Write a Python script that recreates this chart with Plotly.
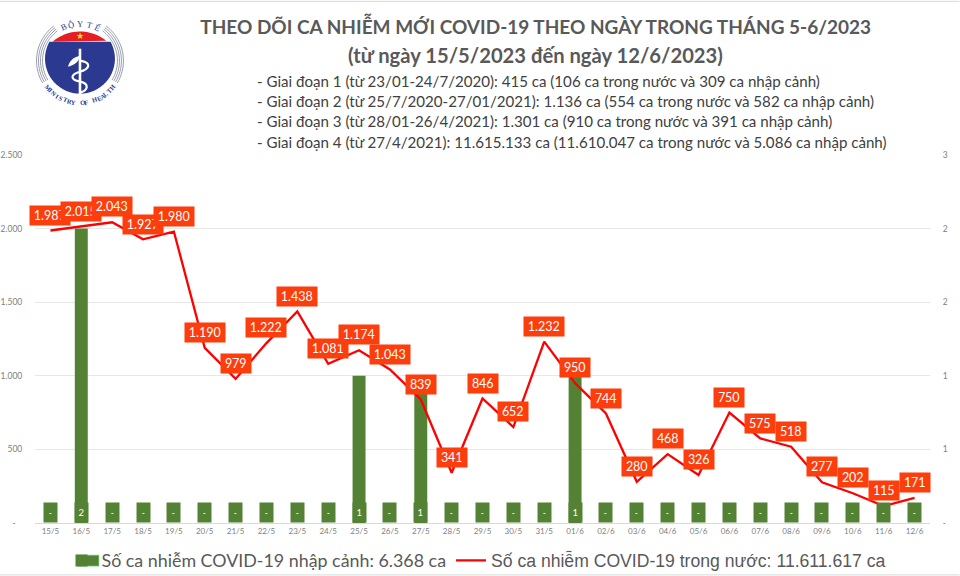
import math
import plotly.graph_objects as go

days = ["15/5", "16/5", "17/5", "18/5", "19/5", "20/5", "21/5", "22/5", "23/5", "24/5",
        "25/5", "26/5", "27/5", "28/5", "29/5", "30/5", "31/5", "01/6", "02/6", "03/6",
        "04/6", "05/6", "06/6", "07/6", "08/6", "09/6", "10/6", "11/6", "12/6"]
nhap_canh = [0, 2, 0, 0, 0, 0, 0, 0, 0, 0, 1, 0, 1, 0, 0, 0, 0, 1, 0, 0, 0, 0, 0, 0, 0, 0, 0, 0, 0]
trong_nuoc = [1987, 2015, 2043, 1927, 1980, 1190, 979, 1222, 1438, 1081, 1174, 1043, 839, 341, 846,
              652, 1232, 950, 744, 280, 468, 326, 750, 575, 518, 277, 202, 115, 171]

left_ticks = [0, 500, 1000, 1500, 2000, 2500]
left_labels = ["-\u00a0\u00a0\u00a0", "500", "1.000", "1.500", "2.000", "2.500"]
right_ticks = [0, 0.5, 1, 1.5, 2, 2.5]
right_labels = ["-", "1", "1", "2", "2", "3"]

title_lines = ["THEO DÕI CA NHIỄM MỚI COVID-19 THEO NGÀY TRONG THÁNG 5-6/2023",
               "(từ ngày 15/5/2023 đến ngày 12/6/2023)"]
giai_doan = ["- Giai đoạn 1 (từ 23/01-24/7/2020): 415 ca (106 ca trong nước và 309 ca nhập cảnh)",
             "- Giai đoạn 2 (từ 25/7/2020-27/01/2021): 1.136 ca (554 ca trong nước và 582 ca nhập cảnh)",
             "- Giai đoạn 3 (từ 28/01-26/4/2021): 1.301 ca (910 ca trong nước và 391 ca nhập cảnh)",
             "- Giai đoạn 4 (từ 27/4/2021): 11.615.133 ca (11.610.047 ca trong nước và 5.086 ca nhập cảnh)"]

W, H = 960, 576
L, R, T, B = 35, 930.5, 154.5, 523.3
GREEN = "#548235"
RED = "#FF0000"
LABEL_RED = "#FC3D0C"
BODY = "Lato"
NAVY = "#2B3990"


def px(x):
    return (x - L) / (R - L)


def py(y):
    return (B - y) / (B - T)


fig = go.Figure()
fig.add_trace(go.Bar(
    x=days, y=nhap_canh, yaxis="y", width=0.42,
    name='<span style="font-family:Lato;font-size:17.85px">Số ca nhiễm COVID-19 nhập cảnh: 6.368 ca</span>',
    marker=dict(color=GREEN, line=dict(width=0)),
))
fig.add_trace(go.Scatter(
    x=days, y=trong_nuoc, yaxis="y2", mode="lines",
    name="Số ca nhiễm COVID-19 trong nước: 11.611.617 ca",
    line=dict(color=RED, width=2.3),
))

# green boxes at the foot of the bars
for d, v in zip(days, nhap_canh):
    fig.add_annotation(x=d, y=0, xref="x", yref="y", yanchor="bottom", yshift=0.5,
                       text=str(v) if v else "-", showarrow=False,
                       width=12.5, height=19, borderpad=0, bgcolor=GREEN,
                       font=dict(family=BODY, size=8.5 if not v else 9.5, color="white"))

# red value labels, later ones sit on top of earlier ones
for d, v in zip(days, trong_nuoc):
    label = f"{v:,}".replace(",", ".")
    fig.add_annotation(x=d, y=v, xref="x", yref="y2", yanchor="middle", yshift=15.3,
                       text=label, showarrow=False,
                       width=39.5 if v >= 1000 else 29.5, height=19, borderpad=0, bgcolor=LABEL_RED,
                       font=dict(family=BODY, size=12.5, color="white"))

# second title line and the stage lines under it
fig.add_annotation(x=px(536), y=py(54), xref="paper", yref="paper", xanchor="center", yanchor="middle",
                   text=f"<b>{title_lines[1]}</b>", showarrow=False,
                   font=dict(family=BODY, size=20.2, color="#595959"))
for i, line in enumerate(giai_doan):
    fig.add_annotation(x=px(255), y=py(80.5 + i * 20.2), xref="paper", yref="paper",
                       xanchor="left", yanchor="middle", text=line, showarrow=False,
                       font=dict(family=BODY, size=15.1, color="#404040"))

shapes = [
    dict(type="line", xref="paper", yref="paper", x0=px(0), x1=px(W), y0=py(0.5), y1=py(0.5),
         line=dict(color="#D9D9D9", width=1)),
    dict(type="line", xref="paper", yref="paper", x0=px(0), x1=px(W), y0=py(575.3), y1=py(575.3),
         line=dict(color="#D9D9D9", width=1)),
    # wider legend swatch, the built-in one is a small square
    dict(type="rect", xref="paper", yref="paper", x0=px(77.5), x1=px(99), y0=py(555.5), y1=py(566.5),
         fillcolor=GREEN, line=dict(color="#7FD99A", width=0.7)),
]


def logo_path(points):
    return "M" + " L".join(f"{px(a):.5f},{py(b):.5f}" for a, b in points)


def curve_path(start, *segments):
    out = f"M{px(start[0]):.5f},{py(start[1]):.5f}"
    for c in segments:
        out += " C" + " ".join(f"{px(c[i]):.5f},{py(c[i + 1]):.5f}" for i in (0, 2, 4))
    return out


# Ministry logo
cx, cy, rad = 80, 58, 35
start = math.degrees(math.asin(17 / 35))
body = []
for i in range(41):
    a = math.radians(-start + (180 + 2 * start) * i / 40)
    body.append((cx + rad * math.cos(a), cy + rad * math.sin(a)))
shapes.append(dict(type="path", xref="paper", yref="paper", path=logo_path(body) + " Z",
                   fillcolor=NAVY, line=dict(width=0)))
cap = []
for a in range(-41, 42, 4):
    cap.append((cx + 41.8 * math.sin(math.radians(a)), 72.5 - 41.8 * math.cos(math.radians(a))))
shapes.append(dict(type="path", xref="paper", yref="paper", path=logo_path(cap) + " Z",
                   fillcolor="#E31E24", line=dict(width=0)))
for r in [37.5, 39.5, 41.5, 43.5]:
    for side in (-1, 1):
        arc = []
        for a in range(37, 122, 4):
            arc.append((cx + side * r * math.sin(math.radians(a)), 60 - r * math.cos(math.radians(a))))
        shapes.append(dict(type="path", xref="paper", yref="paper", path=logo_path(arc),
                           line=dict(color="#8E93A6", width=0.9)))
shapes.append(dict(type="line", xref="paper", yref="paper", x0=px(80), x1=px(80), y0=py(48), y1=py(95),
                   line=dict(color="white", width=2.6)))
shapes.append(dict(type="path", xref="paper", yref="paper",
                   path=curve_path((80, 60), (92, 62, 90, 68, 80, 71), (70, 74, 70, 79, 80, 81),
                                   (90, 83, 88, 90, 80, 92)),
                   line=dict(color="white", width=2.2)))
shapes.append(dict(type="path", xref="paper", yref="paper",
                   path=curve_path((68, 66), (70, 58, 76, 56, 80, 55), (79, 61, 75, 64, 68, 66)) + " Z",
                   fillcolor="white", line=dict(width=0)))

fig.add_annotation(x=px(80), y=py(35), xref="paper", yref="paper", xanchor="center", yanchor="middle",
                   text="★", showarrow=False,
                   font=dict(family="DejaVu Sans", size=9, color="#FFE600"))
for ch, a in zip("BỘYTẾ", [-23, -13, 0, 14, 25]):
    fig.add_annotation(x=px(cx + 42 * math.sin(math.radians(a))), y=py(65 - 42 * math.cos(math.radians(a))),
                       xref="paper", yref="paper", xanchor="center", yanchor="middle",
                       text=ch, textangle=a, showarrow=False,
                       font=dict(family="Liberation Serif", size=8.5, color=NAVY))
motto = "MINISTRY OF HEALTH"
for i, ch in enumerate(motto):
    a = -50 + i * 100 / (len(motto) - 1)
    fig.add_annotation(x=px(cx + 42 * math.sin(math.radians(a))), y=py(60 + 42 * math.cos(math.radians(a))),
                       xref="paper", yref="paper", xanchor="center", yanchor="middle",
                       text=f"<b>{ch}</b>", textangle=-a, showarrow=False,
                       font=dict(family="Liberation Serif", size=6.5, color=NAVY))

fig.update_layout(
    width=W, height=H,
    margin=dict(l=L, r=W - R, t=T, b=H - B, pad=0, autoexpand=False),
    paper_bgcolor="white", plot_bgcolor="white",
    bargap=0.58, shapes=shapes,
    title=dict(text=f"<b>{title_lines[0]}</b>",
               x=px(536), xref="paper", xanchor="center", y=1 - 27 / H, yref="container", yanchor="middle",
               font=dict(family=BODY, size=19, color="#595959")),
    xaxis=dict(type="category", range=[-0.5, 28.5], tickfont=dict(family=BODY, size=8, color="#808080"),
               showline=True, linecolor="#D9D9D9", linewidth=1, ticks="", showgrid=False),
    yaxis=dict(side="right", range=[0, 2.5], tickvals=right_ticks, ticktext=right_labels,
               tickfont=dict(family=BODY, size=8.5, color="#808080"), showgrid=True,
               gridcolor="#E7E7E7", gridwidth=1, zeroline=False,
               ticks="outside", ticklen=10, tickcolor="rgba(0,0,0,0)"),
    yaxis2=dict(side="left", overlaying="y", range=[0, 2500], tickvals=left_ticks, ticktext=left_labels,
                tickfont=dict(family=BODY, size=8.5, color="#808080"), showgrid=False, zeroline=False,
                ticks="outside", ticklen=10, tickcolor="rgba(0,0,0,0)"),
    legend=dict(orientation="h", xref="container", yref="container", x=61.5 / W, y=1 - 560.5 / H,
                xanchor="left", yanchor="middle",
                font=dict(family="Liberation Sans", size=17.6, color="#595959"),
                bgcolor="rgba(0,0,0,0)", itemwidth=30),
)

fig.write_html("out.html", config={"displayModeBar": False}, post_script="document.body.style.margin = '0';")
